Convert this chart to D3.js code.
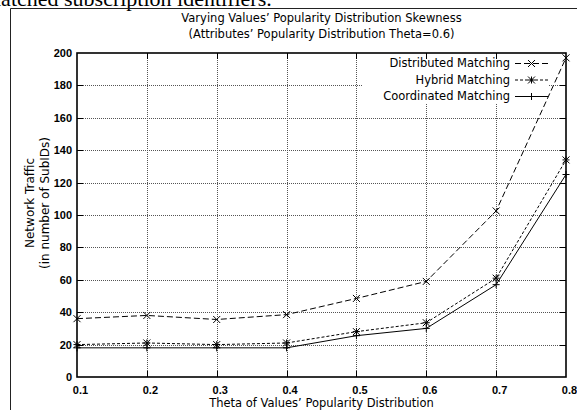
<!DOCTYPE html>
<html>
<head>
<meta charset="utf-8">
<script src="https://cdn.jsdelivr.net/npm/d3@7/dist/d3.min.js"></script>
<style>
  body { margin: 0; background: #fff; }
  svg { display: block; }
</style>
</head>
<body>
<div id="chart"></div>
<script>
// values
const thetas = [0.1, 0.2, 0.3, 0.4, 0.5, 0.6, 0.7, 0.8];
const distributed = [36, 38, 35.5, 38.5, 48.5, 59, 102.5, 197];
const hybrid = [20, 21, 20, 21, 28, 33.5, 61, 134];
const coordinated = [18, 18, 18, 18, 25.5, 30, 57, 125];
const yTicks = [0, 20, 40, 60, 80, 100, 120, 140, 160, 180, 200];
const seriesNames = ["Distributed Matching", "Hybrid Matching", "Coordinated Matching"];

const width = 577, height = 410;
const margin = {top: 53, right: 11, bottom: 33, left: 77};
const sansFont = "DejaVu Sans, Verdana, sans-serif";
const tickFont = "Liberation Sans, Arial, sans-serif";

let svg = d3.select('#chart').append('svg')
    .attr('width', width)
    .attr('height', height);

// bit of the paper text above the figure, cut off
svg.append('text')
    .text("matched subscription identifiers.")
    .attr('x', -16)
    .attr('y', 6)
    .style('font-family', 'Liberation Serif, Times New Roman, serif')
    .style('font-size', '22px')
    .attr('fill', '#000');

// figure frame
svg.append('path')
    .attr('d', `M10.5,${height} V8.5 H${width}`)
    .attr('fill', 'none')
    .attr('stroke', '#222')
    .attr('stroke-width', 1);

let x = d3.scaleLinear().domain([0.1, 0.8]).range([margin.left, width - margin.right]);
let y = d3.scaleLinear().domain([0, 200]).range([height - margin.bottom, margin.top]);

// grid
let grid = svg.append('g').attr('stroke', '#555').attr('stroke-width', 1).attr('stroke-dasharray', '1,1');
grid.selectAll('.hgrid')
    .data(yTicks.slice(1, -1))
    .join('line')
    .attr('class', 'hgrid')
    .attr('x1', x(0.1)).attr('x2', x(0.8))
    .attr('y1', d => Math.round(y(d)) + 0.5).attr('y2', d => Math.round(y(d)) + 0.5);
grid.selectAll('.vgrid')
    .data(thetas.slice(1, -1))
    .join('line')
    .attr('class', 'vgrid')
    .attr('y1', y(0)).attr('y2', y(200))
    .attr('x1', d => Math.round(x(d)) + 0.5).attr('x2', d => Math.round(x(d)) + 0.5);

// legend box hides the grid behind it
svg.append('rect')
    .attr('x', 362).attr('y', 54)
    .attr('width', 186).attr('height', 50)
    .attr('fill', '#fff');

// axes (gnuplot style, ticks on all sides)
let tickLen = 6;
let axisG = svg.append('g');
axisG.append('g')
    .attr('transform', `translate(0,${y(0)})`)
    .call(d3.axisBottom(x).tickValues(thetas).tickSize(0).tickPadding(9).tickFormat(d3.format('.1f')))
    .call(g => g.select('.domain').remove())
    .selectAll('text')
    .attr('dx', 3);
axisG.append('g')
    .attr('transform', `translate(${x(0.1)},0)`)
    .call(d3.axisLeft(y).tickValues(yTicks).tickSize(0).tickPadding(5))
    .call(g => g.select('.domain').remove());
axisG.selectAll('text')
    .style('font-family', tickFont)
    .style('font-size', '11px')
    .style('font-weight', 'bold')
    .attr('fill', '#000');

// inward ticks
let ticksG = svg.append('g').attr('stroke', '#000').attr('stroke-width', 1);
ticksG.selectAll('.tb')
    .data(thetas.slice(1, -1))
    .join('line')
    .attr('x1', d => Math.round(x(d)) + 0.5).attr('x2', d => Math.round(x(d)) + 0.5)
    .attr('y1', y(0)).attr('y2', y(0) - tickLen);
ticksG.selectAll('.tt')
    .data(thetas.slice(1, -1))
    .join('line')
    .attr('class', 'tt')
    .attr('x1', d => Math.round(x(d)) + 0.5).attr('x2', d => Math.round(x(d)) + 0.5)
    .attr('y1', y(200)).attr('y2', y(200) + tickLen);
ticksG.selectAll('.tl')
    .data(yTicks.slice(1, -1))
    .join('line')
    .attr('class', 'tl')
    .attr('y1', d => Math.round(y(d)) + 0.5).attr('y2', d => Math.round(y(d)) + 0.5)
    .attr('x1', x(0.1)).attr('x2', x(0.1) + tickLen);
ticksG.selectAll('.tr')
    .data(yTicks.slice(1, -1))
    .join('line')
    .attr('class', 'tr')
    .attr('y1', d => Math.round(y(d)) + 0.5).attr('y2', d => Math.round(y(d)) + 0.5)
    .attr('x1', x(0.8)).attr('x2', x(0.8) - tickLen);

// plot border
svg.append('rect')
    .attr('x', x(0.1)).attr('y', y(200))
    .attr('width', x(0.8) - x(0.1)).attr('height', y(0) - y(200))
    .attr('fill', 'none')
    .attr('stroke', '#000')
    .attr('stroke-width', 1.6);

// markers
let m = 3.5;
function markerPath(type) {
    let cross = `M${-m},${-m}L${m},${m}M${-m},${m}L${m},${-m}`;
    let plus = `M${-m},0H${m}M0,${-m}V${m}`;
    if (type === 'x') return cross;
    if (type === '+') return plus;
    return cross + plus;
}

let series = [
    {name: seriesNames[0], values: distributed, dash: '6,3', marker: 'x'},
    {name: seriesNames[1], values: hybrid, dash: '3,2', marker: '*'},
    {name: seriesNames[2], values: coordinated, dash: null, marker: '+'}
];

let line = d3.line()
    .x((d, i) => x(thetas[i]))
    .y(d => y(d));

let sg = svg.selectAll('.series')
    .data(series)
    .join('g')
    .attr('class', 'series');
sg.append('path')
    .attr('d', d => line(d.values))
    .attr('fill', 'none')
    .attr('stroke', '#000')
    .attr('stroke-width', 1)
    .attr('stroke-dasharray', d => d.dash);
sg.each(function(s) {
    d3.select(this).selectAll('.pt')
        .data(s.values)
        .join('path')
        .attr('class', 'pt')
        .attr('transform', (d, i) => `translate(${x(thetas[i])},${y(d)})`)
        .attr('d', markerPath(s.marker))
        .attr('fill', 'none')
        .attr('stroke', '#000')
        .attr('stroke-width', 1);
});

// legend
let legend = svg.selectAll('.legend')
    .data(series)
    .join('g')
    .attr('class', 'legend')
    .attr('transform', (d, i) => `translate(510,${63 + i * 16.5})`);
legend.append('text')
    .text(d => d.name)
    .attr('text-anchor', 'end')
    .attr('dy', '0.35em')
    .style('font-family', sansFont)
    .style('font-size', '11.5px')
    .attr('fill', '#000');
legend.append('line')
    .attr('x1', 5).attr('x2', 38)
    .attr('y1', 0.5).attr('y2', 0.5)
    .attr('stroke', '#000')
    .attr('stroke-dasharray', d => d.dash);
legend.append('path')
    .attr('transform', 'translate(21.5,0.5)')
    .attr('d', d => markerPath(d.marker))
    .attr('fill', 'none')
    .attr('stroke', '#000');

// titles
let cx = (x(0.1) + x(0.8)) / 2;
svg.append('text')
    .attr('x', cx).attr('y', 22)
    .attr('text-anchor', 'middle')
    .style('font-family', sansFont).style('font-size', '11.5px')
    .text("Varying Values’ Popularity Distribution Skewness");
svg.append('text')
    .attr('x', cx).attr('y', 38)
    .attr('text-anchor', 'middle')
    .style('font-family', sansFont).style('font-size', '11.5px')
    .text("(Attributes’ Popularity Distribution Theta=0.6)");
svg.append('text')
    .attr('x', cx).attr('y', 407)
    .attr('text-anchor', 'middle')
    .style('font-family', sansFont).style('font-size', '11.5px')
    .text("Theta of Values’ Popularity Distribution");

let yl = svg.append('text')
    .attr('transform', 'translate(0,203) rotate(-90)')
    .attr('text-anchor', 'middle')
    .style('font-family', sansFont).style('font-size', '12px');
yl.append('tspan').attr('x', 0).attr('y', 34).text("Network Traffic");
yl.append('tspan').attr('x', 0).attr('y', 49).text("(in number of SubIDs)");
</script>
</body>
</html>
